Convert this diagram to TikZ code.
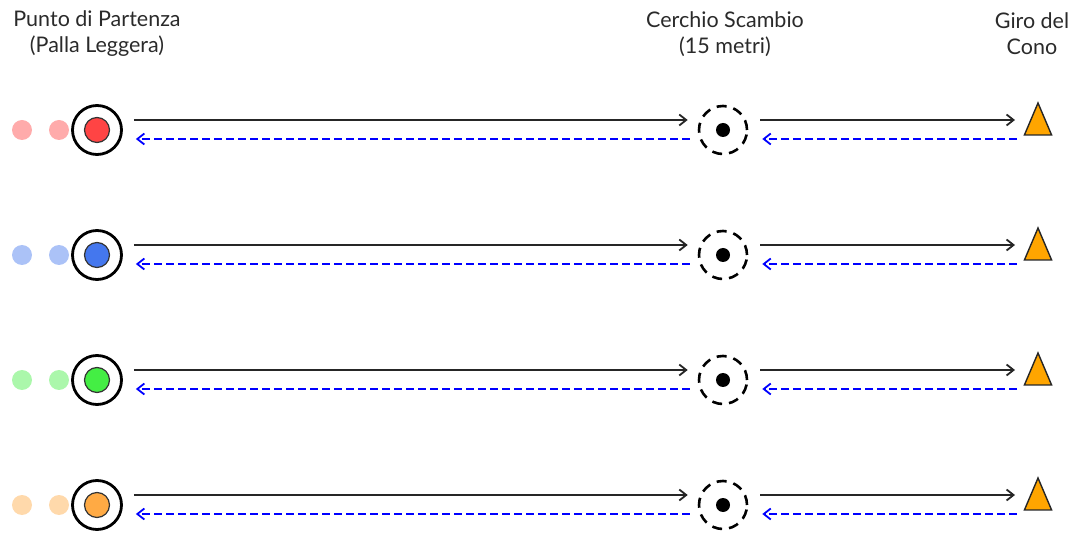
\documentclass[tikz,border=0pt]{standalone}
\usepackage{fontspec}
\setmainfont{Lato}
\usetikzlibrary{arrows.meta,shapes.geometric}
\definecolor{cred}{HTML}{FF4444}
\definecolor{cblue}{HTML}{4477EE}
\definecolor{cgreen}{HTML}{44EE44}
\definecolor{corange}{HTML}{FFAA44}
\definecolor{cone}{HTML}{FFA500}
\definecolor{txt}{HTML}{2A2A2A}
\tikzset{
  lbl/.style={text=txt, font=\fontsize{21.5}{26}\selectfont, align=center},
  start/.style={circle, draw=black, line width=2.8pt, minimum size=49pt, inner sep=0pt},
  ball/.style={circle, draw=black!80, line width=1.2pt, minimum size=25pt, inner sep=0pt},
  ghost/.style={circle, minimum size=20pt, inner sep=0pt, opacity=0.45},
  hoop/.style={circle, draw=black, line width=2.6pt, dash pattern=on 10pt off 7pt, minimum size=48pt, inner sep=0pt},
  hdot/.style={circle, fill=black, minimum size=14pt, inner sep=0pt},
  conus/.style={isosceles triangle, isosceles triangle apex angle=46, shape border rotate=90, draw=black!85, line width=1.4pt, fill=cone, minimum height=32pt, inner sep=0pt},
  go/.style={-{Straight Barb[length=7pt,width=11pt]}, line width=1.8pt, black!85},
  back/.style={-{Straight Barb[length=7pt,width=11pt]}, line width=1.8pt, blue, dash pattern=on 8pt off 4pt}
}
\begin{document}
\begin{tikzpicture}[x=1pt,y=-1pt]
\useasboundingbox (0,0) rectangle (1079,534);
\node[lbl] (t1) at (97,34) {Punto di Partenza\\(Palla Leggera)};
\node[lbl] (t2) at (725,34) {Cerchio Scambio\\(15 metri)};
\node[lbl] (t3) at (1032,34) {Giro del\\Cono};
\foreach \i/\c in {1/cred,2/cblue,3/cgreen,4/corange}{
  \pgfmathsetmacro{\yy}{130+125*(\i-1)}
  \node[ghost, fill=\c] (ga\i) at (22,\yy) {};
  \node[ghost, fill=\c] (gb\i) at (59,\yy) {};
  \node[start] (s\i) at (97,\yy) {};
  \node[ball, fill=\c] (b\i) at (97,\yy) {};
  \node[hoop] (h\i) at (723,\yy) {};
  \node[hdot] (d\i) at (723,\yy) {};
  \node[conus] (c\i) at (1038,\yy-4) {};
  \draw[go] ([shift={(11,-10)}]s\i.center -| s\i.east) -- ([shift={(-10,-10)}]h\i.center -| h\i.west);
  \draw[back] ([shift={(-8,9)}]h\i.center -| h\i.west) -- ([shift={(13,9)}]s\i.center -| s\i.east);
  \draw[go] ([shift={(12,-10)}]h\i.center -| h\i.east) -- ([shift={(-23,-10)}]c\i.center |- h\i.center);
  \draw[back] ([shift={(-21,9)}]c\i.center |- h\i.center) -- ([shift={(14,9)}]h\i.center -| h\i.east);
}
\end{tikzpicture}
\end{document}
